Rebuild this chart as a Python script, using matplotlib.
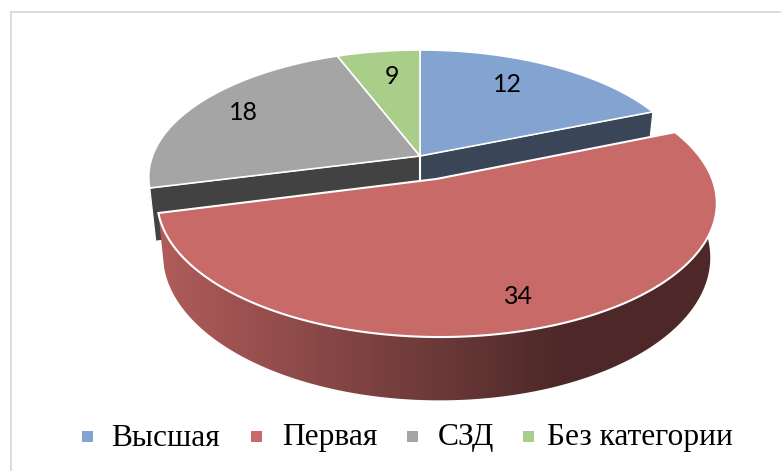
import numpy as np
import matplotlib.pyplot as plt
from matplotlib.patches import Polygon, Rectangle

# shares of the pie as drawn (percent)
categories = ['Высшая', 'Первая', 'СЗД', 'Без категории']
shares = [18.8, 52.2, 23.2, 5.8]
value_labels = ['12', '34', '18', '9']

colors = ['#83a3d0', '#c76a68', '#a5a5a5', '#a9ce8a']
wall_colors = ['#3a4558', '#4f2a2a', '#424242', '#5f7a48']
exploded = [0, 0.19, 0, 0]

# perspective of the pie disc, in pixels
cx, cy = 420, 156
a, b, k = 267.5, 123.5, -0.165
depth = 51

fig = plt.figure(figsize=(7.81, 4.71), dpi=100)
ax = fig.add_axes([0, 0, 1, 1])
ax.set_xlim(0, 781)
ax.set_ylim(471, 0)
ax.axis('off')


def project(u, v, down=0.0):
    d = 1 + k * v
    x = a * u / d
    y = b * v / d
    shrink = 1 - 0.022 * down
    return cx + x * shrink, cy + y + down * depth / d


def sector(start, stop, off, down=0.0, n=200):
    t = np.radians(np.linspace(start, stop, n))
    u = np.sin(t) + off[0]
    v = -np.cos(t) + off[1]
    return project(u, v, down)


# slice angles, clockwise from the top
edges = np.cumsum([0] + shares) * 3.6
mids = (edges[:-1] + edges[1:]) / 2
offs = []
for e, m in zip(exploded, mids):
    offs.append((e * np.sin(np.radians(m)), -e * np.cos(np.radians(m))))

# cut faces of the slices that stay in place
for i, ang in [(0, edges[1]), (2, edges[2])]:
    rx, ry = sector(ang, ang, offs[i], n=1)
    bx, by = sector(ang, ang, offs[i], down=1, n=1)
    ox, oy = project(0, 0, 1)
    ax.fill([cx, rx[0], bx[0], ox], [cy, ry[0], by[0], oy], fc=wall_colors[i],
            ec='white', lw=0.8, zorder=2)

# flat tops of the slices that stay in place
for i in [0, 2, 3]:
    x, y = sector(edges[i], edges[i + 1], offs[i])
    ax.fill(np.r_[cx, x], np.r_[cy, y], fc=colors[i], ec='white', lw=1.2, zorder=3)
ax.plot([cx, cx], [cy, 184], color='white', lw=1.5, zorder=2.5)

# outer wall of the exploded slice, shaded left to right
w0, w1 = edges[1], edges[2]
tx, ty = sector(w0, w1, offs[1])
lx, ly = sector(w0, w1, offs[1], down=1)
wall = Polygon(np.c_[np.r_[tx, lx[::-1]], np.r_[ty, ly[::-1]]], closed=True, fc='none', ec='none')
ax.add_patch(wall)
shade_x = np.arange(150, 730)
shade_r = np.interp(shade_x, [160, 460, 560, 720], [176, 102, 78, 78])
shade_g = np.interp(shade_x, [160, 460, 560, 720], [92, 54, 40, 40])
shade_b = np.interp(shade_x, [160, 460, 560, 720], [90, 54, 40, 40])
shade = np.dstack([shade_r, shade_g, shade_b]).astype(np.uint8)
im = ax.imshow(shade, extent=(150, 730, 410, 120), aspect='auto', zorder=4)
im.set_clip_path(wall)
ax.set_xlim(0, 781)
ax.set_ylim(471, 0)

# top of the exploded slice
x, y = sector(w0, w1, offs[1])
vx, vy = project(offs[1][0], offs[1][1])
ax.fill(np.r_[vx, x], np.r_[vy, y], fc=colors[1], ec='white', lw=1.5, zorder=5)

# value labels
label_xy = [(507, 85), (518, 297), (243, 113), (392, 77)]
for txt, (tx_, ty_) in zip(value_labels, label_xy):
    ax.text(tx_, ty_, txt, family='Lato', fontsize=18, color='black', ha='center',
            va='center', zorder=6)

# legend
marker_x = [87.5, 256, 412, 528]
text_x = [111, 282, 438, 547]
for name, col, mx, tx_ in zip(categories, colors, marker_x, text_x):
    ax.add_patch(Rectangle((mx - 5.5, 431), 11, 10.5, fc=col, ec='none', zorder=6))
    ax.text(tx_, 438, name, family='Liberation Serif', fontsize=22.7, color='black',
            ha='left', va='center', zorder=6)

# frame, only left and top show
ax.plot([11, 11], [12, 471], color='#d9d9d9', lw=1.3, zorder=1)
ax.plot([11, 781], [12, 12], color='#d9d9d9', lw=1.3, zorder=1)

fig.savefig('out.png', dpi=100)
